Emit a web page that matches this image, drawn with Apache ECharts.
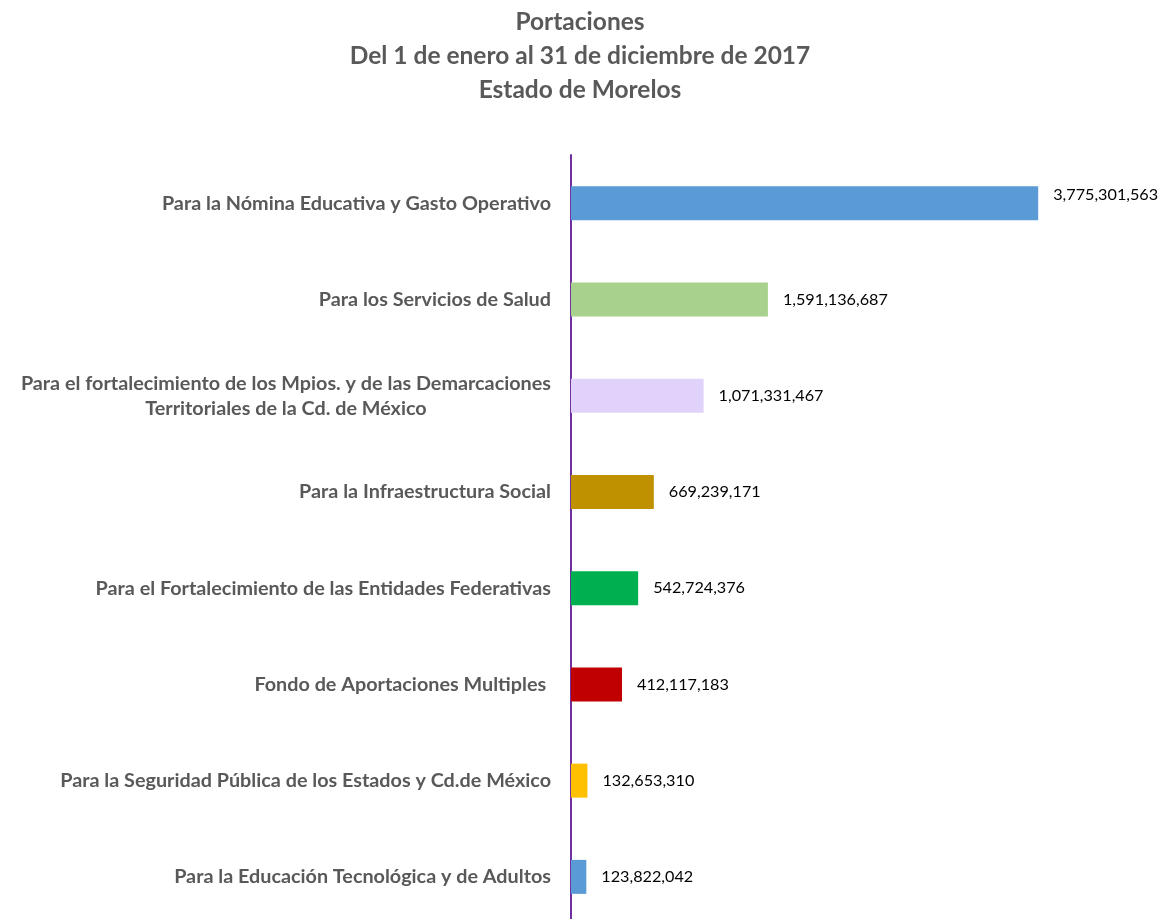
<!DOCTYPE html>
<html>
<head>
<meta charset="utf-8">
<script src="https://cdn.jsdelivr.net/npm/echarts@6/dist/echarts.min.js"></script>
<style>html,body{margin:0;padding:0;background:#fff;overflow:hidden}#c{width:1160px;height:930px}</style>
</head>
<body>
<div id="c"></div>
<script>
const titleLines = ['Portaciones', 'Del 1 de enero al 31 de diciembre de 2017', 'Estado de Morelos'];
const categories = [
  'Para la Nómina Educativa y Gasto Operativo',
  'Para los Servicios de Salud',
  'Para el fortalecimiento de los Mpios. y de las Demarcaciones\nTerritoriales de la Cd. de México',
  'Para la Infraestructura Social',
  'Para el Fortalecimiento de las Entidades Federativas',
  'Fondo de Aportaciones Multiples ',
  'Para la Seguridad Pública de los Estados y Cd.de México',
  'Para la Educación Tecnológica y de Adultos'
];
const values = [3775301563, 1591136687, 1071331467, 669239171, 542724376, 412117183, 132653310, 123822042];
const colors = ['#5B9BD5', '#A9D18E', '#E0D2FA', '#BF9000', '#00B050', '#C00000', '#FFC000', '#5B9BD5'];

const chart = echarts.init(document.getElementById('c'));
chart.setOption({
  animation: false,
  title: {
    text: titleLines.join('\n'),
    left: 'center',
    top: 0,
    textStyle: { fontFamily: 'Lato', fontWeight: 'bold', fontSize: 24.5, color: '#595959', lineHeight: 34 }
  },
  grid: { left: 571, top: 155, bottom: 5, right: 94, containLabel: false },
  xAxis: { type: 'value', min: 0, max: 4000000000, show: false },
  yAxis: {
    type: 'category',
    inverse: true,
    data: categories,
    axisLine: { show: true, lineStyle: { color: '#7030A0', width: 2 } },
    axisTick: { show: false },
    axisLabel: {
      margin: 20,
      formatter: function (v) {
        return v.split('\n').map(function (s) { return '{c|' + s + '}'; }).join('\n');
      },
      rich: {
        c: { fontFamily: 'Lato', fontWeight: 'bold', fontSize: 19.8, color: '#595959', align: 'center', lineHeight: 25 }
      }
    }
  },
  series: [{
    type: 'bar',
    barWidth: 34,
    data: values.map(function (v, i) {
      const d = { value: v, itemStyle: { color: colors[i] } };
      if (i === 0) d.label = { offset: [0, -8] };
      return d;
    }),
    label: {
      show: true,
      position: 'right',
      distance: 15,
      fontFamily: 'Lato',
      fontSize: 16.2,
      color: '#000',
      formatter: function (p) { return p.value.toLocaleString('en-US'); }
    }
  }]
});
</script>
</body>
</html>
